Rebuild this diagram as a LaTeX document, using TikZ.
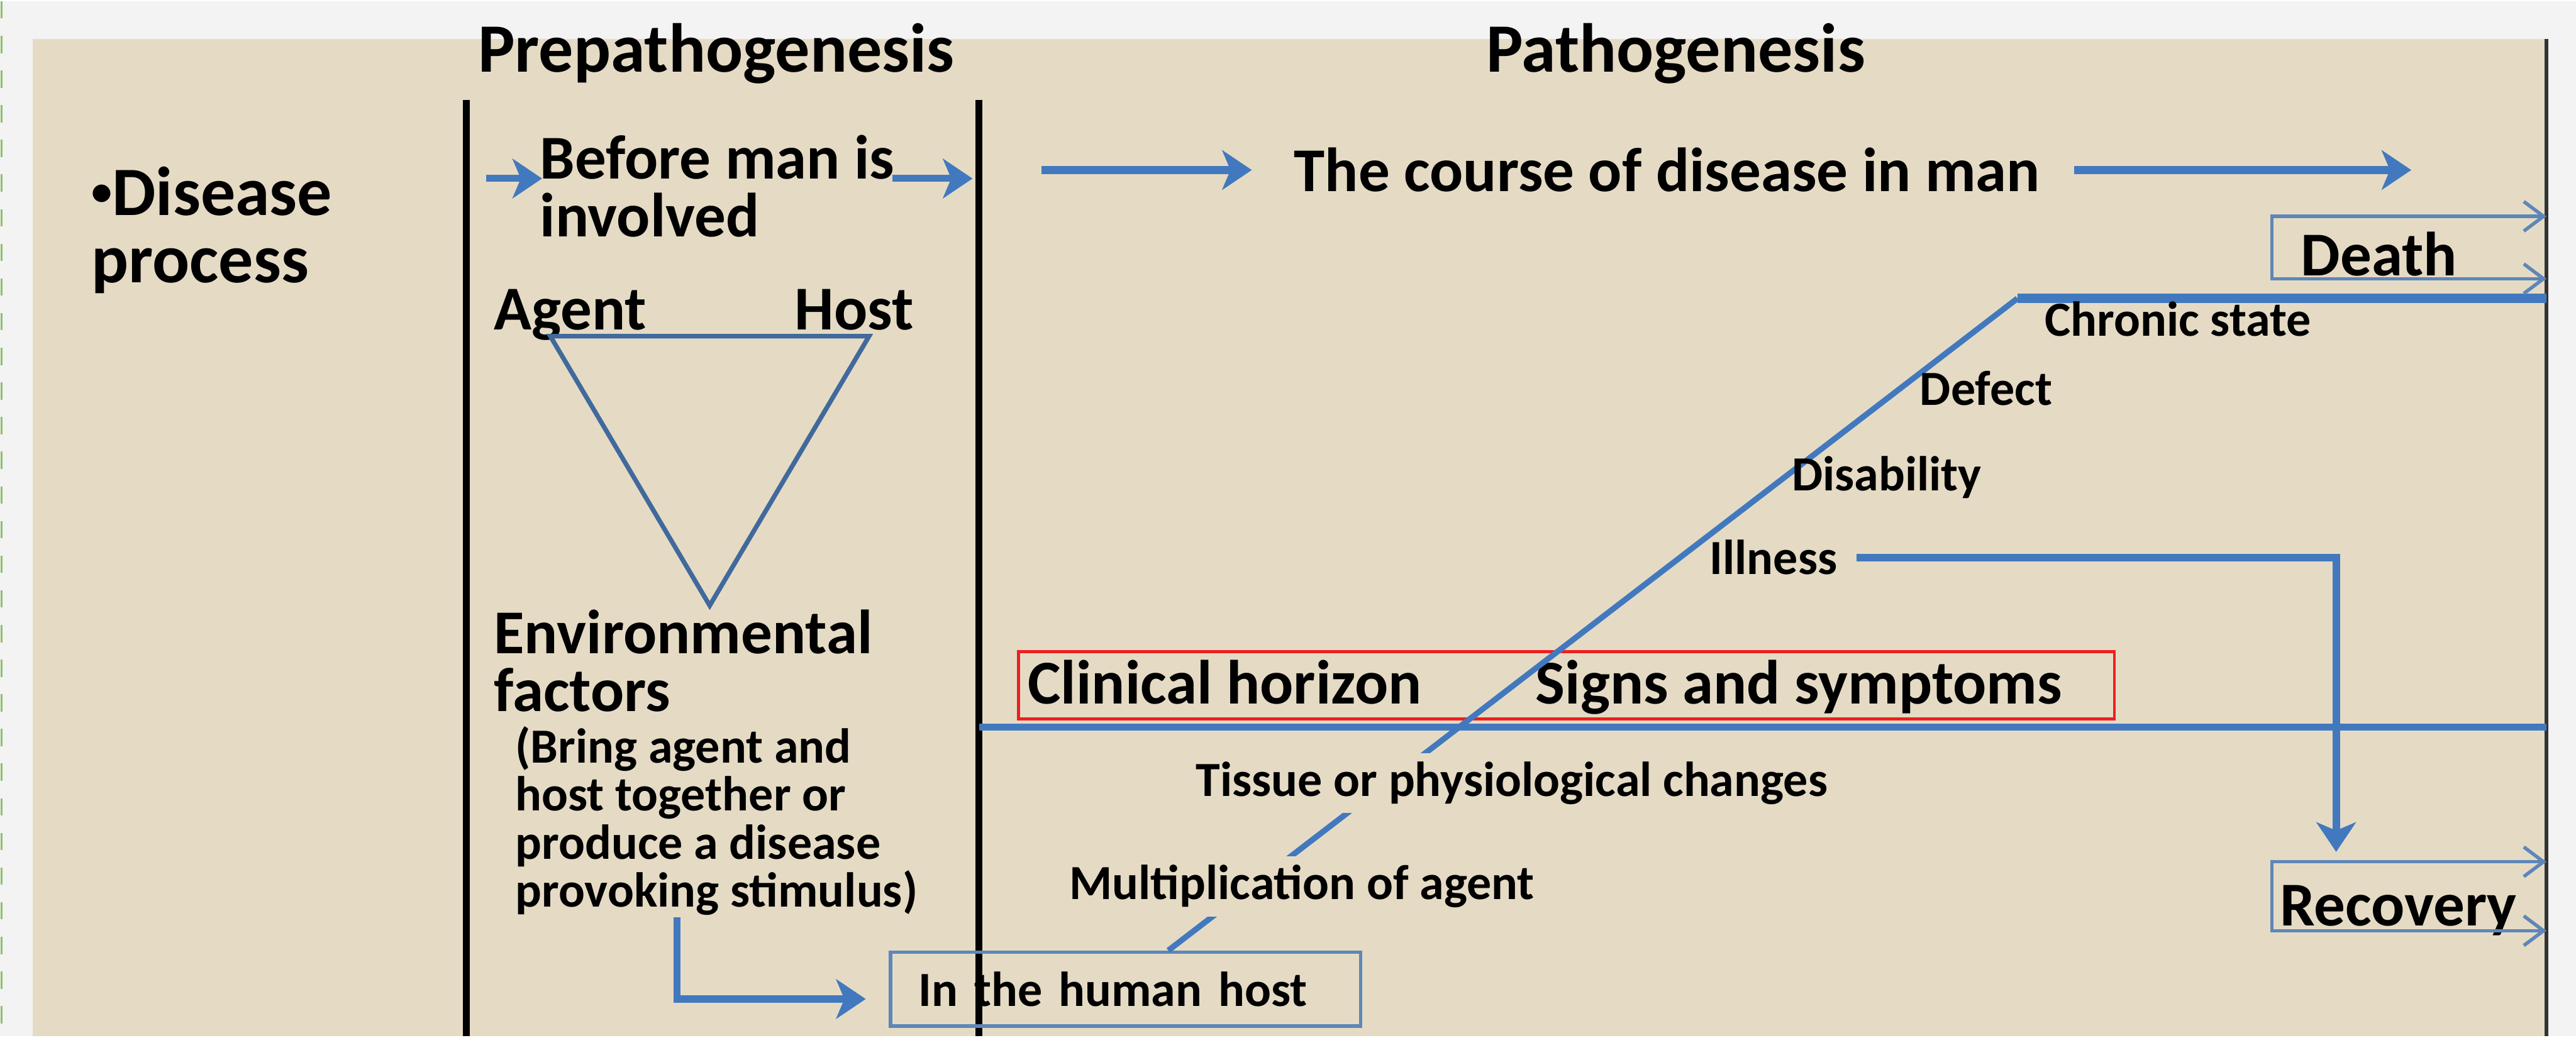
\documentclass[tikz,border=0pt]{standalone}
\usepackage{fontspec}
\setmainfont{Carlito}
\usetikzlibrary{arrows.meta, positioning}
\definecolor{linen}{HTML}{E5DBC5}
\definecolor{pagegray}{HTML}{F3F3F3}
\definecolor{flowblue}{HTML}{4279BE}
\definecolor{triblue}{HTML}{41699C}
\definecolor{boxblue}{HTML}{5F86B8}
\definecolor{horizonred}{HTML}{F01E1E}
\definecolor{edgegreen}{HTML}{8CC06A}

\begin{document}
\begin{tikzpicture}[
    x=0.01cm, y=-0.01cm,
    head/.style={font=\fontsize{12}{12}\selectfont\bfseries, anchor=base, inner sep=0pt},
    txt/.style={font=\fontsize{10.8}{10}\selectfont\bfseries, anchor=base west, inner sep=0pt},
    block/.style={txt, anchor=north west, align=left},
    stage/.style={font=\fontsize{8.5}{8.3}\selectfont\bfseries, anchor=base west, inner sep=0pt},
    masked/.style={stage, fill=linen, inner sep=1.5pt},
    divider/.style={line width=1.2pt, black},
    flow/.style={flowblue, line width=1.5pt, -{Stealth[length=1.8mm, width=2.4mm, inset=0.5mm]}},
    course/.style={flowblue, line width=1pt},
    barbs/.style={boxblue, line width=0.6pt, {Straight Barb[length=1.2mm, width=1.8mm]}-{Straight Barb[length=1.2mm, width=1.8mm]}},
]
    % Page and linen background
    \fill[pagegray] (0,0) rectangle (1568,630);
    \fill[linen] (20,23) rectangle (1550,630);
    \draw[edgegreen, dashed, line width=0.4pt] (1,0) -- (1,630);
    \draw[black!80, line width=0.6pt] (1550,23) -- (1550,630);
    \useasboundingbox (0,0) rectangle (1568,630);

    % Headings
    \node[head] (prepath) at (436,43) {Prepathogenesis};
    \node[head] (path) at (1020,43) {Pathogenesis};
    \node[block, font=\fontsize{12}{11.7}\selectfont\bfseries] (disease) at (55,100)
        {\raisebox{0.14em}{\scalebox{0.6}{•}}Disease\\process};

    % Period dividers
    \draw[divider] (284,60) -- (284,630);
    \draw[divider] (596,60) -- (596,630);

    % Prepathogenesis column
    \node[block] (before) at (328,81) {Before man is\\involved};
    \node[txt] (agent) at (300,200) {Agent};
    \node[txt] (host) at (483,200) {Host};
    \draw[triblue, line width=0.8pt] (335,204) -- (529,204) -- (432,368) -- cycle;
    \node[block] (env) at (300,370) {Environmental\\factors};
    \node[block, font=\fontsize{8.5}{8.3}\selectfont\bfseries] (bring) at (313,441)
        {(Bring agent and\\host together or\\produce a disease\\provoking stimulus)};
    \node[draw=boxblue, line width=0.6pt, anchor=north west, minimum height=0.45cm,
        text width=2.52cm, inner xsep=0.17cm, align=left,
        font=\fontsize{8.5}{8.3}\selectfont\bfseries] (hhost) at (541,578) {In the human host};

    % Pathogenesis column
    \node[txt] (coursetxt) at (787,116) {The course of disease in man};
    \node[txt] (death) at (1400,167) {Death};
    \node[txt] (recovery) at (1387,563) {Recovery};
    \coordinate (peak) at (1228,181);
    \coordinate (rimtop) at (1550,181);
    \coordinate (rectop) at (1422,518);

    % Arrows along the top
    \draw[flow, line width=1.2pt] ([xshift=-0.32cm]before.west |- 0,108) -- ([xshift=0.02cm]before.west |- 0,108);
    \draw[flow, line width=1.2pt] ([xshift=-0.02cm]before.east |- 0,108) -- (592,108);
    \draw[flow] ([xshift=-1.53cm]coursetxt.west) -- ([xshift=-0.25cm]coursetxt.west);
    \draw[flow] ([xshift=0.2cm]coursetxt.east) -- ([xshift=2.25cm]coursetxt.east);

    % Environmental factors into the host
    \draw[flow, line width=1.2pt] (412,558) |- ([xshift=-0.14cm, yshift=-0.06cm]hhost.west);

    % Horizon
    \draw[flowblue, line width=1.3pt] (596,442) -- (1550,442);
    \draw[horizonred, line width=0.5pt] (620,396) rectangle (1287,437);
    \node[txt] (clinical) at (625,428) {Clinical horizon};
    \node[txt] (signs) at (934,428) {Signs and symptoms};

    % Course of disease in the host
    \draw[course] ([xshift=0.26cm]hhost.north) -- (peak);
    \draw[flowblue, line width=1.6pt] (peak) -- (rimtop);
    \node[masked] (multi) at (645,547) {Multiplication of agent};
    \node[masked] (tissue) at (722,484) {Tissue or physiological changes};
    \node[stage] (illness) at (1040,349) {Illness};
    \node[stage] (disab) at (1090,298) {Disability};
    \node[stage] (defect) at (1168,246) {Defect};
    \node[stage] (chronic) at (1244,204) {Chronic state};

    % Outcomes
    \draw[flow, line width=1.3pt] ([xshift=0.11cm]illness.east |- 0,339) -| (rectop);
    \draw[barbs] (1550,131) -| ([xshift=-0.17cm]death.west |- 0,150) |- (1550,169);
    \draw[barbs] (1550,524) -| ([xshift=-0.04cm]recovery.west |- 0,545) |- (1550,566);
\end{tikzpicture}
\end{document}
